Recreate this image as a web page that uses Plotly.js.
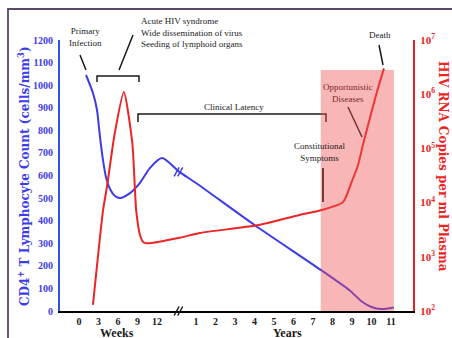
<!DOCTYPE html>
<html><head><meta charset="utf-8">
<script src="https://cdn.plot.ly/plotly-3.0.1.min.js"></script>
<style>html,body{margin:0;padding:0;background:#fff;}#chart{width:452px;height:338px;}</style>
</head><body><div id="chart"></div>
<script>
// ---- data ----
// x positions: weeks are on one scale (every 3 weeks = 1 unit), then a break, then years
const weekTicks = [0, 3, 6, 9, 12];
const yearTicks = [1, 2, 3, 4, 5, 6, 7, 8, 9, 10, 11];
const cd4Ticks = [0, 100, 200, 300, 400, 500, 600, 700, 800, 900, 1000, 1100, 1200];
const rnaTicks = [1e2, 1e3, 1e4, 1e5, 1e6, 1e7];
const rnaTickText = ['10<sup>2</sup>','10<sup>3</sup>','10<sup>4</sup>','10<sup>5</sup>','10<sup>6</sup>','10<sup>7</sup>'];

// CD4+ T lymphocyte count (cells/mm3)
const cd4WeekT = [1.08, 2.15, 2.77, 3.23, 3.69, 4.15, 4.77, 5.54, 6.3, 7.85, 9.38, 10.9, 12.77];
const cd4WeekV = [1045, 965, 890, 771, 669, 593, 540, 509, 500, 522, 567, 633, 677];
const cd4YearT = [0.15, 1, 4, 7.4, 8.9, 9.5, 10.0, 10.5, 11.15];
const cd4YearV = [616, 567, 381, 182, 90, 42, 18, 9, 16];

// HIV RNA copies per ml plasma
const rnaWeekT = [2.15, 3.7, 4.3, 5.5, 6.9, 8.2, 8.8, 9.4, 9.9, 10.9];
const rnaWeekV = [130, 7200, 19500, 190000, 1100000, 126000, 7200, 2500, 1860, 1780];
const rnaYearT = [0.15, 1.2, 4.3, 6.3, 7.4, 8.54, 9.0, 9.31, 9.56, 9.92, 10.28, 10.64];
const rnaYearV = [2240, 2750, 3900, 5900, 7200, 10200, 25000, 49000, 115000, 363000, 1100000, 3000000];

// shaded late-stage region (years)
const shadeYears = [7.4, 11.15];
const shadeTop = 1067;
// break position on the time axis
const breakPos = 5.1;

// ---- scale helpers ----
const WEEKS_PER_UNIT = 3, YEAR_OFFSET = 5;
const wpos = w => w / WEEKS_PER_UNIT;
const ypos = y => y + YEAR_OFFSET;
const cd4X = cd4WeekT.map(wpos).concat(cd4YearT.map(ypos));
const cd4Y = cd4WeekV.concat(cd4YearV);
const rnaX = rnaWeekT.map(wpos).concat(rnaYearT.map(ypos));
const rnaY = rnaWeekV.concat(rnaYearV);
const tickVals = weekTicks.map(wpos).concat(yearTicks.map(ypos));
const tickText = weekTicks.map(String).concat(yearTicks.map(String));

// layout geometry
const M = {l: 60, r: 39, t: 40, b: 27};
const PW = 452 - M.l - M.r, PH = 338 - M.t - M.b;
const px = x => (x - M.l) / PW;
const py = y => (338 - M.b - y) / PH;

const BLUE = '#3c3ce8', RED = '#ec2424', INK = '#1a1a1a';
const serif = 'Liberation Serif, Times New Roman, serif';

const traces = [
  {x: cd4X, y: cd4Y, type: 'scatter', mode: 'lines', line: {color: BLUE, width: 2, shape: 'spline', smoothing: 0.7}, yaxis: 'y', hoverinfo: 'skip'},
  {x: rnaX, y: rnaY, type: 'scatter', mode: 'lines', line: {color: RED, width: 2, shape: 'spline', smoothing: 0.6}, yaxis: 'y2', hoverinfo: 'skip'}
];

function seg(x0, y0, x1, y1, color, w) {
  return {type: 'line', xref: 'paper', yref: 'paper', x0: px(x0), y0: py(y0), x1: px(x1), y1: py(y1), line: {color: color || INK, width: w || 1.5}, layer: 'above'};
}
function breakMark(yref, yval, color) {
  const out = [];
  [-1.8, 1.8].forEach(o => out.push({type: 'line', xref: 'x', yref: yref, xsizemode: 'pixel', ysizemode: 'pixel', xanchor: breakPos, yanchor: yval,
    x0: o - 2.5, y0: -4.5, x1: o + 2.5, y1: 4.5, line: {color: color, width: 1.5}, layer: 'above'}));
  return out;
}

const shapes = [
  // outer frame
  {type: 'rect', xref: 'paper', yref: 'paper', x0: px(8), y0: py(9), x1: px(470), y1: py(360), line: {color: '#5a4868', width: 1.8}, fillcolor: 'rgba(0,0,0,0)', layer: 'above'},
  // pointers
  seg(80, 55, 86, 70),
  seg(133, 35, 119, 70),
  seg(379, 45, 383, 65),
  seg(348, 107, 362, 137),
  seg(323, 168, 323, 202, '#111', 1.8),
  // brackets
  {type: 'path', xref: 'paper', yref: 'paper', path: `M ${px(97)},${py(82)} L ${px(97)},${py(76)} L ${px(139)},${py(76)} L ${px(139)},${py(82)}`, line: {color: INK, width: 1.5}, layer: 'above'},
  {type: 'path', xref: 'paper', yref: 'paper', path: `M ${px(138)},${py(122)} L ${px(138)},${py(114)} L ${px(326)},${py(114)} L ${px(326)},${py(122)}`, line: {color: INK, width: 1.5}, layer: 'above'},
  // break marks
  ...breakMark('paper', 0, INK),
  ...breakMark('y', 616, BLUE),
  ...breakMark('y2', Math.log10(2240), RED),
  // shaded region on top
  {type: 'rect', xref: 'x', yref: 'y', x0: ypos(shadeYears[0]), x1: ypos(shadeYears[1]), y0: 0, y1: shadeTop, fillcolor: 'rgba(240,80,80,0.42)', line: {width: 0}, layer: 'above'}
];

function note(text, x, y, opts) {
  return Object.assign({text: text, xref: 'paper', yref: 'paper', x: px(x), y: py(y), showarrow: false, xanchor: 'center', yanchor: 'middle',
    font: {family: serif, size: 9, color: INK}}, opts || {});
}

const annotations = [
  note('Primary<br>Infection', 85, 37),
  note('Acute HIV syndrome<br>Wide dissemination of virus<br>Seeding of lymphoid organs', 139, 32.5, {xanchor: 'left', align: 'left'}),
  note('Clinical Latency', 234, 107),
  note('Constitutional<br>Symptoms', 320, 152),
  note('Opportunistic<br>Diseases', 348, 93, {font: {family: serif, size: 9, color: '#7a2530'}}),
  note('Death', 380, 35),
  note('Weeks', 117, 324, {yanchor: 'top', font: {family: serif, size: 12, color: INK, weight: 'bold'}}),
  note('Years', 287, 324, {yanchor: 'top', font: {family: serif, size: 12, color: INK, weight: 'bold'}}),
  note('CD4<sup>+</sup> T Lymphocyte Count (cells/mm<sup>3</sup>)', 24, 176, {textangle: -90, font: {family: 'DejaVu Serif, serif', size: 12, color: BLUE, weight: 'bold'}}),
  note('HIV RNA Copies per ml Plasma', 443, 166, {textangle: 90, font: {family: 'DejaVu Serif, serif', size: 12, color: RED, weight: 'bold'}})
];

const layout = {
  width: 452, height: 338,
  margin: M,
  paper_bgcolor: '#fff', plot_bgcolor: 'rgba(0,0,0,0)',
  showlegend: false,
  xaxis: {range: [-0.974, 17.13], tickvals: tickVals, ticktext: tickText, ticks: '', showgrid: false, zeroline: false,
    showline: true, linecolor: '#000', linewidth: 2, tickfont: {family: serif, size: 10, color: INK, weight: 'bold'}, fixedrange: true},
  yaxis: {range: [0, 1200], tickvals: cd4Ticks, ticks: '', showgrid: false, zeroline: false, showline: true, linecolor: '#3050e8', linewidth: 2,
    tickfont: {family: serif, size: 10, color: BLUE, weight: 'bold'}, ticklabelstandoff: 3, fixedrange: true},
  yaxis2: {type: 'log', range: [2, 7], overlaying: 'y', side: 'right', tickvals: rnaTicks, ticktext: rnaTickText, ticks: '', showgrid: false, zeroline: false,
    showline: true, linecolor: '#e02424', linewidth: 2, tickfont: {family: serif, size: 11, color: RED, weight: 'bold'}, ticklabelstandoff: 3, fixedrange: true},
  shapes: shapes,
  annotations: annotations
};

Plotly.newPlot('chart', traces, layout, {staticPlot: true, displayModeBar: false});
</script>
</body></html>
